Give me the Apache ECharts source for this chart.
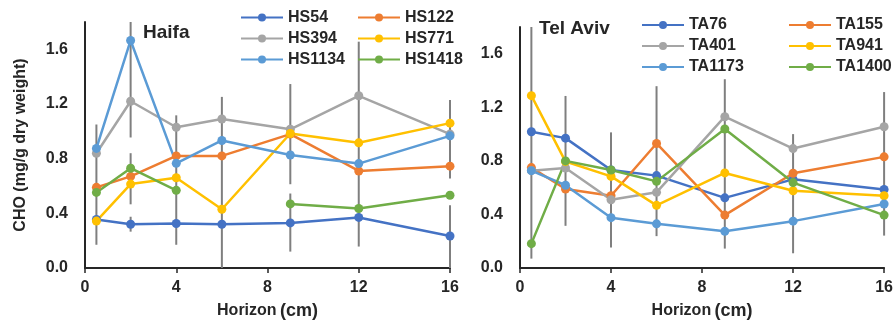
<!DOCTYPE html>
<html>
<head>
<meta charset="utf-8">
<script src="https://cdn.jsdelivr.net/npm/echarts@6/dist/echarts.min.js"></script>
<style>
html, body { margin: 0; padding: 0; background: #fff; }
#chart { width: 896px; height: 325px; }
</style>
</head>
<body>
<div id="chart"></div>
<script>
// horizon depths (cm)
var horizon = [0.5, 2, 4, 6, 9, 12, 16];

// Haifa
var haifaNames = ['HS54', 'HS122', 'HS394', 'HS771', 'HS1134', 'HS1418'];
var HS54 = [0.355, 0.32, 0.326, 0.32, 0.33, 0.37, 0.234];
var HS122 = [0.59, 0.67, 0.82, 0.82, 0.98, 0.71, 0.745];
var HS394 = [0.84, 1.22, 1.03, 1.09, 1.015, 1.26, 0.98];
var HS771 = [0.343, 0.614, 0.66, 0.43, 0.984, 0.916, 1.06];
var HS1134 = [0.875, 1.665, 0.766, 0.933, 0.827, 0.764, 0.967];
var HS1418 = [0.553, 0.73, 0.568, null, 0.469, 0.435, 0.532];

// Tel Aviv
var telavivNames = ['TA76', 'TA155', 'TA401', 'TA941', 'TA1173', 'TA1400'];
var TA76 = [1.018, 0.97, 0.732, 0.69, 0.524, 0.662, 0.587];
var TA155 = [0.75, 0.59, 0.54, 0.93, 0.395, 0.708, 0.83];
var TA401 = [0.727, 0.747, 0.51, 0.565, 1.13, 0.892, 1.055];
var TA941 = [1.287, 0.795, 0.684, 0.468, 0.71, 0.577, 0.54];
var TA1173 = [0.727, 0.618, 0.376, 0.33, 0.274, 0.35, 0.478];
var TA1400 = [0.182, 0.8, 0.732, 0.647, 1.038, 0.638, 0.395];

// error bar segments (x, low, high)
var errXHaifa = [0.5, 2, 2, 2, 4, 6, 9, 9, 12, 16, 16];
var errLoHaifa = [0.17, 0.955, 0.466, 0.266, 0.17, 0.0, 0.613, 0.12, 0.157, 0.655, 0.0];
var errHiHaifa = [1.05, 1.80, 0.84, 0.375, 1.117, 1.252, 1.346, 0.545, 1.656, 1.23, 0.46];

var errXTA = [0.5, 2, 4, 6, 9, 12, 16];
var errLoTA = [0.07, 0.315, 0.153, 0.238, 0.145, 0.11, 0.242];
var errHiTA = [1.8, 1.285, 1.013, 1.358, 1.41, 1.0, 1.314];

var colors = ['#4472C4', '#ED7D31', '#A5A5A5', '#FFC000', '#5B9BD5', '#70AD47'];
var font = 'Liberation Sans';
var txt = '#262626';

function pairs(ys) {
    var d = [];
    for (var i = 0; i < horizon.length; i++) d.push([horizon[i], ys[i]]);
    return d;
}

function errData(xs, lo, hi) {
    var d = [];
    for (var i = 0; i < xs.length; i++) d.push([xs[i], lo[i], hi[i]]);
    return d;
}

function lineSeries(name, ys, idx, color) {
    return {
        name: name,
        type: 'line',
        xAxisIndex: idx,
        yAxisIndex: idx,
        data: pairs(ys),
        symbol: 'circle',
        symbolSize: 9,
        connectNulls: false,
        lineStyle: { width: 2.5, color: color },
        itemStyle: { color: color },
        z: 3
    };
}

function errSeries(idx, data) {
    return {
        type: 'custom',
        xAxisIndex: idx,
        yAxisIndex: idx,
        data: data,
        encode: { x: 0, y: [1, 2] },
        z: 1,
        silent: true,
        renderItem: function (params, api) {
            var x = api.value(0);
            var a = api.coord([x, api.value(1)]);
            var b = api.coord([x, api.value(2)]);
            return {
                type: 'line',
                shape: { x1: a[0], y1: a[1], x2: b[0], y2: b[1] },
                style: { stroke: '#7f7f7f', lineWidth: 2 }
            };
        }
    };
}

function xAxis(idx) {
    return {
        type: 'value',
        gridIndex: idx,
        min: 0, max: 16, interval: 4,
        name: '{a|Horizon} {b|(cm)}',
        nameLocation: 'middle',
        nameGap: 34,
        nameTextStyle: {
            rich: {
                a: { fontFamily: font, fontWeight: 'bold', fontSize: 16, color: txt },
                b: { fontFamily: font, fontWeight: 'bold', fontSize: 18, color: txt }
            }
        },
        splitLine: { show: false },
        axisLine: { lineStyle: { color: '#262626', width: 2 } },
        axisTick: { show: true, length: 5, lineStyle: { color: '#262626', width: 1.5 } },
        axisLabel: { fontFamily: font, fontWeight: 'bold', fontSize: 16, color: txt, margin: 12 }
    };
}

function yAxis(idx, withName) {
    return {
        type: 'value',
        gridIndex: idx,
        min: 0, max: 1.8, interval: 0.4,
        name: withName ? 'CHO (mg/g dry weight)' : '',
        nameLocation: 'middle',
        nameGap: 56,
        nameTextStyle: { fontFamily: font, fontWeight: 'bold', fontSize: 16, color: txt },
        splitLine: { show: false },
        axisLine: { show: true, lineStyle: { color: '#262626', width: 2 } },
        axisTick: { show: false },
        axisLabel: {
            fontFamily: font, fontWeight: 'bold', fontSize: 16, color: txt, margin: 17,
            showMaxLabel: false,
            formatter: function (v) { return v.toFixed(1); }
        }
    };
}

function legend(names, left, top) {
    return {
        data: names,
        orient: 'vertical',
        left: left,
        top: top,
        padding: 0,
        itemWidth: 42,
        itemHeight: 10,
        itemGap: 5,
        textStyle: { fontFamily: font, fontWeight: 'bold', fontSize: 16, lineHeight: 16, color: txt }
    };
}

var chart = echarts.init(document.getElementById('chart'));

var series = [errSeries(0, errData(errXHaifa, errLoHaifa, errHiHaifa)),
              errSeries(1, errData(errXTA, errLoTA, errHiTA))];
var haifaData = [HS54, HS122, HS394, HS771, HS1134, HS1418];
var taData = [TA76, TA155, TA401, TA941, TA1173, TA1400];
for (var i = 0; i < 6; i++) {
    series.push(lineSeries(haifaNames[i], haifaData[i], 0, colors[i]));
    series.push(lineSeries(telavivNames[i], taData[i], 1, colors[i]));
}

var option = {
    animation: false,
    backgroundColor: '#fff',
    title: [
        { text: 'Haifa', left: 143, top: 23, padding: 0, textStyle: { fontFamily: font, fontWeight: 'bold', fontSize: 19, color: txt } },
        { text: 'Tel Aviv', left: 539, top: 19, padding: 0, textStyle: { fontFamily: font, fontWeight: 'bold', fontSize: 19, color: txt } }
    ],
    legend: [
        legend(['HS54', 'HS394', 'HS1134'], 240, 9.5),
        legend(['HS122', 'HS771', 'HS1418'], 357, 9.5),
        legend(['TA76', 'TA401', 'TA1173'], 641, 17),
        legend(['TA155', 'TA941', 'TA1400'], 788, 17)
    ],
    grid: [
        { left: 85, right: 446, top: 22, bottom: 55 },
        { left: 520, right: 9, top: 27, bottom: 52 }
    ],
    xAxis: [xAxis(0), xAxis(1)],
    yAxis: [yAxis(0, true), yAxis(1, false)],
    series: series
};

chart.setOption(option);
</script>
</body>
</html>
